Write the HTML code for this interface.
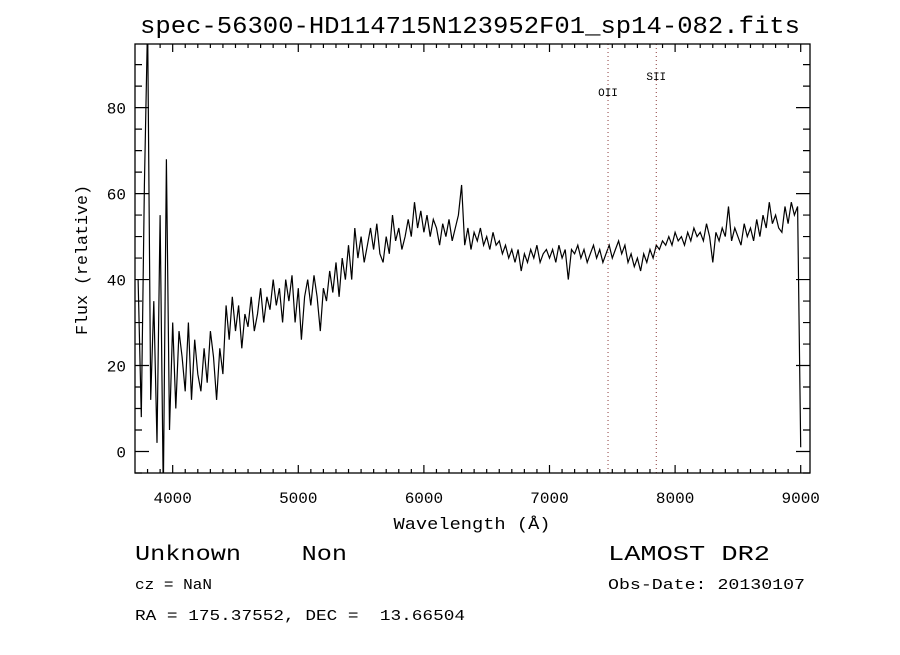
<!DOCTYPE html>
<html><head><meta charset="utf-8"><style>
body{margin:0;background:#fff;}
svg text{font-family:"Liberation Mono",monospace;fill:#000;white-space:pre;}
</style></head><body>
<svg id="c" width="900" height="650" viewBox="0 0 900 650" xmlns="http://www.w3.org/2000/svg" xml:space="preserve">
<rect width="900" height="650" fill="#fff"/>
<text x="470" y="33" font-size="24" text-anchor="middle" textLength="660" lengthAdjust="spacingAndGlyphs">spec-56300-HD114715N123952F01_sp14-082.fits</text>
<g id="plot"></g>
<text x="472" y="529" font-size="17" text-anchor="middle" textLength="157" lengthAdjust="spacingAndGlyphs">Wavelength (Å)</text>
<text transform="translate(87,260) rotate(-90)" font-size="17" text-anchor="middle" textLength="150" lengthAdjust="spacingAndGlyphs">Flux (relative)</text>
<text x="135" y="560" font-size="21" textLength="212" lengthAdjust="spacingAndGlyphs">Unknown    Non</text>
<text x="608" y="560" font-size="21" textLength="162" lengthAdjust="spacingAndGlyphs">LAMOST DR2</text>
<text x="135" y="589" font-size="15" textLength="77" lengthAdjust="spacingAndGlyphs">cz = NaN</text>
<text x="608" y="589" font-size="15" textLength="197" lengthAdjust="spacingAndGlyphs">Obs-Date: 20130107</text>
<text x="135" y="620" font-size="15" textLength="330" lengthAdjust="spacingAndGlyphs">RA = 175.37552, DEC =  13.66504</text>
</svg>
<script>
const wavelengths = [];
for (let w = 3725; w <= 9000; w += 25) wavelengths.push(w);
const flux = [40,8,62,100,12,35,2,55,-10,68,5,30,10,28,22,14,30,12,26,18,14,24,16,28,22,12,24,18,34,26,36,28,34,24,32,29,36,28,32,38,30,36,33,40,34,38,30,40,35,41,30,38,26,36,40,34,41,36,28,38,35,42,37,44,36,45,40,48,40,52,45,50,44,48,52,47,53,46,44,50,46,55,49,52,47,50,54,50,58,52,56,51,55,50,54,52,48,53,50,54,49,52,55,62,48,52,47,51,49,52,48,50,47,51,48,49,46,48,45,47,44,47,42,46,44,47,45,48,44,46,47,45,47,44,48,45,47,40,47,46,48,45,47,44,46,48,45,47,44,46,48,45,47,49,46,48,44,46,43,45,42,46,44,47,45,48,47,49,48,50,48,51,49,50,48,51,49,52,50,51,49,53,50,44,51,49,52,50,57,49,52,50,48,53,50,52,49,54,50,55,52,58,53,55,52,51,57,53,58,55,57,1];
const xTicks = [4000,5000,6000,7000,8000,9000];
const yTicks = [0,20,40,60,80];
const lineNames = ["OII","SII"];
const lineWaves = [7466,7850];

const L=135,R=810,T=44,B=473;
const X0=3700,X1=9074,Y0=-5,Y1=94.8;
const xs=w=>L+(w-X0)/(X1-X0)*(R-L);
const ys=v=>B-(v-Y0)/(Y1-Y0)*(B-T);
const NS="http://www.w3.org/2000/svg";
const g=document.getElementById('plot');
function mk(tag,attrs){const e=document.createElementNS(NS,tag);for(const k in attrs)e.setAttribute(k,attrs[k]);g.appendChild(e);return e;}

const clip=mk('clipPath',{id:'pc'});
const cr=document.createElementNS(NS,'rect');cr.setAttribute('x',L);cr.setAttribute('y',T);cr.setAttribute('width',R-L);cr.setAttribute('height',B-T);clip.appendChild(cr);

let d='';
wavelengths.forEach((w,i)=>{d+=(i?'L':'M')+xs(w).toFixed(1)+','+ys(flux[i]).toFixed(1);});
const line=mk('path',{d:d,fill:'none',stroke:'#000','stroke-width':1.2,'clip-path':'url(#pc)'});



lineWaves.forEach((w,i)=>{
  const l=mk('line',{x1:xs(w),x2:xs(w),y1:T,y2:B,stroke:'#8b3a3a','stroke-width':1,'stroke-dasharray':'1,3'});
  
  
  const t=mk('text',{x:xs(w),y:i===0?96:80,'font-size':11,'text-anchor':'middle','font-family':'Liberation Serif, serif'});
  t.textContent=lineNames[i];
  
  
});

const frame=mk('rect',{x:L,y:T,width:R-L,height:B-T,fill:'none',stroke:'#000','stroke-width':1.3});



let td='';
for(let w=3800;w<=9000;w+=100){const x=xs(w),len=(w%1000===0)?8:4;td+=`M${x},${B}v${-len}M${x},${T}v${len}`;}
for(let v=-5;v<=90;v+=5){const y=ys(v),len=(v%20===0)?14:7;td+=`M${L},${y}h${len}M${R},${y}h${-len}`;}
const ticks=mk('path',{d:td,stroke:'#000','stroke-width':1.2,fill:'none'});



xTicks.forEach(w=>{const t=mk('text',{x:xs(w),y:503,'font-size':16,'text-anchor':'middle'});t.textContent=w;
  
  });
yTicks.forEach(v=>{const t=mk('text',{x:126,y:ys(v)+6,'font-size':16,'text-anchor':'end'});t.textContent=v;
  
  });
</script>
</body></html>
